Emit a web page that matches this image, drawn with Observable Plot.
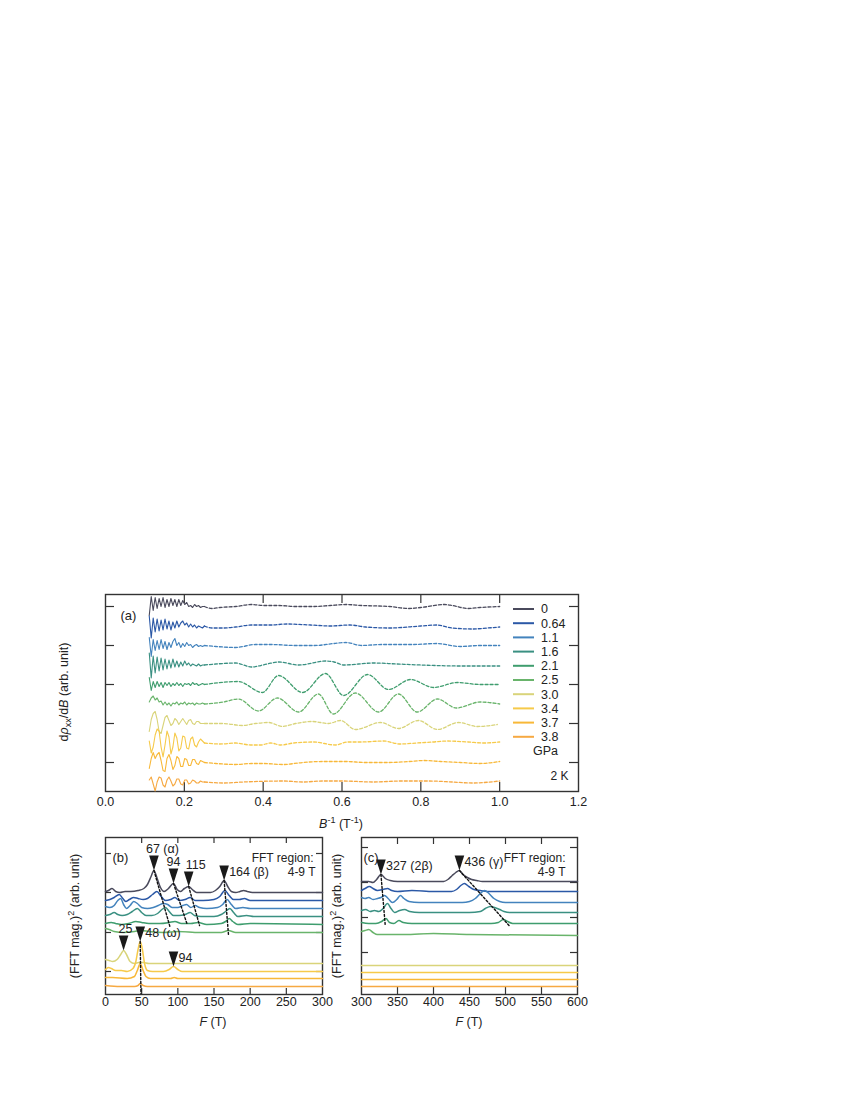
<!DOCTYPE html>
<html><head><meta charset="utf-8">
<script src="https://cdn.jsdelivr.net/npm/d3@7"></script>
<script src="https://cdn.jsdelivr.net/npm/@observablehq/plot@0.6"></script>
<style>
body{margin:0;background:#fff;}
#fig{position:relative;width:850px;height:1100px;}
</style></head><body><div id="fig"></div>
<script>
// ---------------- DATA ----------------
const pressures = ["0","0.64","1.1","1.6","2.1","2.5","3.0","3.4","3.7","3.8"];
const colors = ["#4a4a5c","#2b58a6","#4383bd","#3a9082","#3f9d6e","#69b46b","#d9d47a","#f6ca4a","#f8b838","#f6a942"];

// Panel (a): dρxx/dB vs 1/B, curves offset vertically (arb. unit)
const offsetsA = [185,165.5,146,126.5,107,87.5,68,48.5,29,9.5];
const solidB = [0.111,0.116,0.121,0.126,0.131,0.136,0.141,0.146,0.151,0.156,0.161,0.166,0.171,0.176,0.181,0.186,0.191,0.196,0.201,0.206,0.211,0.216,0.221,0.226,0.231,0.236,0.241,0.246,0.251];
const solidA = [
  [-9,10,-4,9,-2,8,0,9,-1,7,0,8,1,7,0,7,1,6,2,4,0,1,-1,2,0,1,-1,0,0],
  [10,-12,8,-6,7,-5,6,-4,7,-3,5,-4,4,-2,5,-1,3,5,1,3,-1,2,-1,1,-2,0,-1,-2,0],
  [8,-11,6,-5,5,-4,6,-3,4,-4,3,-2,4,7,0,3,-2,2,-1,3,0,1,-2,0,1,-1,0,-1,0],
  [12,-13,9,-8,8,-6,7,-5,6,-4,5,-3,6,-2,4,-2,3,-1,4,0,2,-1,1,0,-1,1,-1,0,0],
  [7,-6,3,-3,3,-2,2,-3,2,-1,2,-2,1,-1,2,-1,1,-2,1,0,1,-1,2,0,1,-1,0,1,0],
  [2,6,8,4,6,2,3,-1,2,-1,1,-2,1,0,2,-1,1,0,2,-1,1,0,1,-1,1,0,0,1,0],
  [-8,4,10,12,4,-8,-10,-2,6,8,3,-2,0,5,3,-1,2,5,2,-1,3,4,0,-1,2,2,0,0,0],
  [2,-10,-4,8,14,12,-4,-14,-2,12,6,-11,-4,10,5,-8,-5,7,6,-5,-6,4,6,-2,-4,1,4,2,0],
  [-6,4,10,4,8,10,2,-8,-9,4,8,2,-7,-3,6,4,-4,-4,4,3,-3,-3,3,3,-1,-2,2,1,0],
  [2,5,-2,-9,0,5,4,-3,-5,2,5,1,-4,-2,3,3,-2,-3,2,2,-2,-1,2,1,-1,-1,1,0,0]
];
const dashA = [
  [[0.251,0],[0.27,-2],[0.29,-1],[0.33,0],[0.37,2],[0.40,1],[0.44,1],[0.48,0],[0.53,0],[0.57,1],[0.61,2],[0.65,1],[0.72,0],[0.77,-2],[0.80,-1],[0.86,2],[0.88,1],[0.92,-2],[0.95,-1],[1.0,0]],
  [[0.251,0],[0.27,-2],[0.30,-2],[0.33,-1],[0.37,1],[0.42,1],[0.46,2],[0.52,1],[0.57,0],[0.62,1],[0.66,-1],[0.72,-2],[0.80,0],[0.84,1],[0.88,-2],[0.93,-3],[0.97,-2],[1.0,-1]],
  [[0.251,0],[0.28,-1],[0.33,-2],[0.38,1],[0.42,1],[0.48,0],[0.53,0],[0.58,2],[0.61,3],[0.65,0],[0.70,1],[0.78,1],[0.84,2],[0.90,-1],[0.95,0],[1.0,0]],
  [[0.251,0],[0.28,1],[0.33,2],[0.37,-2],[0.41,1],[0.44,3],[0.49,0],[0.56,4],[0.58,3],[0.605,0],[0.68,2],[0.74,1],[0.80,0],[0.90,-1],[1.0,-1]],
  [[0.251,0],[0.337,3],[0.398,-8],[0.439,9],[0.50,-8],[0.558,11],[0.604,-11],[0.665,10],[0.718,-5],[0.774,5],[0.832,-3],[0.893,2],[0.95,0],[1.0,0]],
  [[0.251,0],[0.30,2],[0.337,5],[0.388,-7],[0.436,6],[0.49,-8],[0.54,10],[0.578,-10],[0.634,11],[0.693,-8],[0.743,10],[0.791,-8],[0.842,5],[0.89,-4],[0.951,2],[1.0,0]],
  [[0.251,0],[0.297,0],[0.348,-2],[0.38,0],[0.414,1],[0.449,-3],[0.482,0],[0.525,2],[0.566,0],[0.596,3],[0.634,-6],[0.698,1],[0.743,-5],[0.794,3],[0.842,-6],[0.895,1],[0.944,-3],[0.994,-1]],
  [[0.251,0],[0.29,-1],[0.33,0],[0.368,-2],[0.393,-2],[0.419,0],[0.445,-2],[0.477,0],[0.528,1],[0.583,-2],[0.614,1],[0.647,1],[0.705,2],[0.748,-1],[0.79,0],[0.83,1],[0.868,2],[0.92,1],[0.96,0],[1.0,1]],
  [[0.251,0],[0.28,-1],[0.33,-2],[0.37,-1],[0.40,-1],[0.45,-2],[0.50,0],[0.55,1],[0.61,1],[0.66,0],[0.72,0],[0.77,1],[0.81,2],[0.85,1],[0.90,0],[0.95,-1],[1.0,1]],
  [[0.251,0],[0.30,-1],[0.35,0],[0.45,1],[0.50,0],[0.55,1],[0.60,1],[0.68,0],[0.75,1],[0.82,1],[0.88,0],[0.93,-1],[1.0,1]]
];
const xTicksA = [0,0.2,0.4,0.6,0.8,1.0,1.2];
const yTicksA = [185,146,107,68,29];

// Panel (b): FFT magnitude squared vs F, 0-300 T
const offsetsB = [102,94,86,78,70,62,31,23,16,8];
const fftB = [
  [[0,1],[4,2],[9,4],[14,1],[20,0],[27,1],[35,1],[45,2],[53,4],[58,8],[63,16],[67,22],[71,15],[76,5],[81,1],[87,4],[94,9],[99,3],[104,1],[109,4],[115,6],[120,3],[126,0],[135,0],[145,0],[152,2],[158,6],[164,12],[169,6],[174,1],[180,0],[186,1],[191,2],[196,1],[203,0],[300,0]],
  [[0,0],[6,1],[12,3],[19,6],[24,2],[28,-1],[33,1],[39,3],[45,2],[52,1],[58,2],[65,6],[71,9],[77,4],[83,0],[90,1],[96,3],[102,0],[110,1],[117,3],[124,0],[135,0],[150,1],[158,4],[165,10],[171,5],[177,1],[185,1],[192,2],[200,0],[300,0]],
  [[0,2],[6,1],[12,3],[17,8],[21,10],[25,4],[29,0],[34,3],[39,7],[44,5],[50,1],[58,0],[66,1],[73,3],[80,5],[86,4],[92,1],[100,1],[107,3],[112,4],[118,1],[124,3],[130,1],[140,0],[155,1],[162,4],[168,9],[174,4],[180,0],[190,1],[200,0],[300,0]],
  [[0,1],[6,2],[12,4],[17,2],[23,1],[30,2],[37,5],[44,8],[50,4],[56,1],[64,1],[72,3],[78,7],[83,9],[88,5],[94,1],[102,1],[110,2],[117,4],[123,1],[132,0],[150,0],[160,2],[166,5],[172,8],[177,4],[183,0],[195,1],[205,0],[300,0]],
  [[0,1],[8,2],[14,1],[22,0],[32,1],[42,3],[50,2],[60,1],[75,1],[88,2],[96,3],[105,1],[118,1],[128,2],[140,0],[160,1],[166,3],[171,6],[176,3],[183,0],[200,1],[300,0]],
  [[0,4],[5,3],[12,1],[25,0],[40,1],[50,2],[60,1],[80,0],[100,1],[130,0],[160,0],[170,2],[180,0],[300,0]],
  [[0,4],[5,3],[10,2],[16,4],[21,9],[25,13],[29,9],[34,2],[40,0],[46,1],[52,1],[60,0],[80,0],[95,0],[300,0]],
  [[0,2],[4,4],[8,3],[14,1],[22,1],[30,0],[38,3],[42,10],[45,22],[48,30],[51,22],[54,8],[58,1],[65,0],[80,0],[88,2],[94,5],[100,2],[106,0],[130,0],[300,0]],
  [[0,1],[10,1],[30,0],[40,2],[44,8],[48,15],[52,8],[56,2],[62,0],[90,0],[95,1],[100,0],[300,0]],
  [[0,1],[20,0],[40,0],[45,1],[48,3],[52,1],[58,0],[300,0]]
];
const xTicksB = [0,50,100,150,200,250,300];
const yTicksB = [141,102,62,23];
const peaksB = [
  {F:67, curve:0, label:"67 (α)", side:"top"},
  {F:94, curve:0, label:"94", side:"top"},
  {F:115, curve:0, label:"115", side:"top"},
  {F:164, curve:0, label:"164 (β)", side:"right"},
  {F:25, curve:6, label:"25", side:"top"},
  {F:48, curve:7, label:"48 (ω)", side:"right"},
  {F:94, curve:7, label:"94", side:"right"}
];
// dotted guides: [F of peak, curve index, end F, end level]
const guidesB = [[67,0,89,68],[94,0,113,70],[115,0,130,69],[164,0,170,60],[48,7,49,1]];

// Panel (c): FFT magnitude squared vs F, 300-600 T
const offsetsC = [113,103,92,82,71,60,29,22,15,8];
const fftC = [
  [[300,0],[310,0],[316,-1],[321,2],[327,7],[333,3],[340,1],[350,0],[400,0],[414,0],[420,2],[426,6],[431,9],[436,11],[441,7],[447,4],[453,2],[460,1],[468,0],[600,0]],
  [[300,1],[305,3],[311,5],[316,3],[322,1],[330,2],[336,3],[342,1],[350,0],[370,1],[400,0],[425,0],[432,2],[438,6],[443,8],[449,5],[456,2],[465,1],[480,0],[600,0]],
  [[300,5],[305,4],[310,5],[316,3],[322,4],[327,5],[332,7],[337,4],[343,0],[349,3],[354,7],[359,4],[366,1],[380,0],[420,0],[440,0],[450,1],[458,4],[465,9],[471,12],[477,9],[484,4],[492,1],[500,0],[600,0]],
  [[300,2],[306,3],[312,1],[318,2],[324,1],[330,4],[336,9],[341,4],[346,0],[353,2],[360,3],[367,1],[380,0],[450,0],[465,1],[472,4],[479,6],[485,5],[492,3],[498,1],[506,0],[600,0]],
  [[300,1],[310,0],[320,0],[328,2],[334,5],[339,1],[345,0],[352,3],[358,1],[370,0],[480,0],[490,1],[497,4],[503,2],[510,0],[600,0]],
  [[300,3],[305,4],[310,5],[316,2],[322,0],[340,0],[360,0],[400,1],[450,0],[600,-1]],
  [[300,0],[450,0],[600,0]],
  [[300,0],[450,0],[600,0]],
  [[300,0],[450,0],[600,0]],
  [[300,0],[450,0],[600,0]]
];
const xTicksC = [300,350,400,450,500,550,600];
const yTicksC = [147,112,77,42];
const peaksC = [
  {F:327, curve:0, label:"327 (2β)", side:"right"},
  {F:436, curve:0, label:"436 (γ)", side:"right"}
];
const guidesC = [[327,0,333,69],[436,0,505,69]];

// ---------------- DRAWING ----------------
const FONT = '"Liberation Sans", Arial, Helvetica, sans-serif';
const INK = "#222";
const fig = document.getElementById("fig");
const baseStyle = {fontFamily: FONT, fontSize: "12px", color: INK, background: "transparent", overflow: "visible"};
// horizontal shift of labels placed above their triangle (layout only)
const topLabelDx = {"67 (α)": -8, "94": -7, "115": -3, "25": -5};

const tri = {draw(ctx){ ctx.moveTo(0,0); ctx.lineTo(-4.8,-15); ctx.lineTo(4.8,-15); ctx.closePath(); }};

function tickMarks(xt, yt, len, fw, fh) {
  const o = {stroke: "#333", strokeWidth: 1.2};
  return [
    Plot.ruleX(xt, {...o, insetTop: fh - len}),
    Plot.ruleX(xt, {...o, insetBottom: fh - len}),
    Plot.ruleY(yt, {...o, insetRight: fw - len}),
    Plot.ruleY(yt, {...o, insetLeft: fw - len})
  ];
}

function place(svg, top) {
  svg.style.position = "absolute";
  svg.style.left = "0px";
  svg.style.top = top + "px";
  svg.style.maxWidth = "none";
  fig.appendChild(svg);
}

function valueAt(series, F) {
  const p = series.find(d => d[0] === F);
  return p ? p[1] : 0;
}

function fftMarks(data, offsets, peaks, guides) {
  const marks = [];
  data.forEach((s, i) => {
    marks.push(Plot.line(s.map(([f, v]) => ({x: f, y: offsets[i] + v})),
      {x: "x", y: "y", stroke: colors[i], strokeWidth: 1.5, curve: "monotone-x"}));
  });
  const g = guides.map(([f, c, f2, y2]) => [
    {x: f, y: offsets[c] + valueAt(data[c], f), k: f},
    {x: f2, y: y2, k: f}
  ]).flat();
  marks.push(Plot.line(g, {x: "x", y: "y", z: "k", stroke: "#111", strokeWidth: 1.4, strokeDasharray: "2,2"}));
  const pk = peaks.map(p => ({...p, y: offsets[p.curve] + valueAt(data[p.curve], p.F)}));
  marks.push(Plot.dot(pk, {x: "F", y: "y", symbol: tri, fill: "#1a1a1a", stroke: null, r: 5}));
  pk.forEach(p => {
    if (p.side === "top") {
      marks.push(Plot.text([p], {x: "F", y: "y", text: "label", dy: -22, dx: topLabelDx[p.label] ?? -6,
        textAnchor: "start", fill: INK, fontSize: 12.5}));
    } else {
      marks.push(Plot.text([p], {x: "F", y: "y", text: "label", dy: -9, dx: 5,
        textAnchor: "start", fill: INK, fontSize: 12.5}));
    }
  });
  return marks;
}

// Panel (a)
{
  const fw = 473, fh = 197;
  const marks = [
    Plot.frame({stroke: "#333", strokeWidth: 1.4}),
    ...tickMarks(xTicksA.slice(1, -1), yTicksA, 9, fw, fh),
    Plot.text(xTicksA, {x: d => d, frameAnchor: "bottom", dy: 14, text: d => d3.format(".1f")(d), fill: INK, fontSize: 12.5}),
    Plot.text(["(a)"], {frameAnchor: "top-left", dx: 15, dy: 16, text: d => d, textAnchor: "start", fill: INK, fontSize: 13}),
    Plot.text(["2 K"], {frameAnchor: "bottom-right", dx: -10, dy: -12, text: d => d, textAnchor: "end", fill: INK, fontSize: 12})
  ];
  pressures.forEach((p, i) => {
    marks.push(Plot.line(solidB.map((b, k) => ({x: b, y: offsetsA[i] + solidA[i][k]})),
      {x: "x", y: "y", stroke: colors[i], strokeWidth: 1.1}));
    marks.push(Plot.line(dashA[i].map(([b, v]) => ({x: b, y: offsetsA[i] + v})),
      {x: "x", y: "y", stroke: colors[i], strokeWidth: 1.3, strokeDasharray: "3,2", curve: "monotone-x"}));
  });
  const svg = Plot.plot({
    width: 850, height: 290, marginTop: 34, marginBottom: 59, marginLeft: 105, marginRight: 272,
    x: {domain: [0, 1.2], axis: null}, y: {domain: [0, 197], axis: null},
    style: baseStyle, marks
  });
  place(svg, 560);
}

// Panel (b)
{
  const fw = 217, fh = 157;
  const marks = [
    Plot.frame({stroke: "#333", strokeWidth: 1.4}),
    ...tickMarks(xTicksB.slice(1, -1), yTicksB, 6, fw, fh),
    Plot.text(xTicksB, {x: d => d, frameAnchor: "bottom", dy: 11, text: d => String(d), fill: INK, fontSize: 12.5}),
    Plot.text(["(b)"], {frameAnchor: "top-left", dx: 7, dy: 15, text: d => d, textAnchor: "start", fill: INK, fontSize: 13}),
    Plot.text(["FFT region:"], {frameAnchor: "top-right", dx: -9, dy: 16, text: d => d, textAnchor: "end", fill: INK, fontSize: 12}),
    Plot.text(["4-9 T"], {frameAnchor: "top-right", dx: -7, dy: 30, text: d => d, textAnchor: "end", fill: INK, fontSize: 12}),
    ...fftMarks(fftB, offsetsB, peaksB, guidesB)
  ];
  const svg = Plot.plot({
    width: 850, height: 220, marginTop: 17, marginBottom: 46, marginLeft: 105, marginRight: 528,
    x: {domain: [0, 300], axis: null}, y: {domain: [0, 157], axis: null},
    style: baseStyle, marks
  });
  place(svg, 820);
}

// Panel (c)
{
  const fw = 216, fh = 157;
  const marks = [
    Plot.frame({stroke: "#333", strokeWidth: 1.4}),
    ...tickMarks(xTicksC.slice(1, -1), yTicksC, 7, fw, fh),
    Plot.text(xTicksC, {x: d => d, frameAnchor: "bottom", dy: 11, text: d => String(d), fill: INK, fontSize: 12.5}),
    Plot.text(["(c)"], {frameAnchor: "top-left", dx: 2, dy: 15, text: d => d, textAnchor: "start", fill: INK, fontSize: 13}),
    Plot.text(["FFT region:"], {frameAnchor: "top-right", dx: -12, dy: 16, text: d => d, textAnchor: "end", fill: INK, fontSize: 12}),
    Plot.text(["4-9 T"], {frameAnchor: "top-right", dx: -12, dy: 30, text: d => d, textAnchor: "end", fill: INK, fontSize: 12}),
    ...fftMarks(fftC, offsetsC, peaksC, guidesC)
  ];
  const svg = Plot.plot({
    width: 850, height: 220, marginTop: 17, marginBottom: 46, marginLeft: 361, marginRight: 273,
    x: {domain: [300, 600], axis: null}, y: {domain: [0, 157], axis: null},
    style: baseStyle, marks
  });
  place(svg, 820);
}

// Overlay: axis titles and legend (rich text)
const ov = d3.select(fig).append("svg")
  .attr("width", 850).attr("height", 1100)
  .style("position", "absolute").style("left", "0px").style("top", "0px")
  .style("pointer-events", "none")
  .attr("font-family", FONT).attr("font-size", 12.5).attr("fill", INK);

{
  const t = ov.append("text").attr("transform", "translate(68,692) rotate(-90)").attr("text-anchor", "middle");
  t.append("tspan").text("d");
  t.append("tspan").attr("font-style", "italic").text("ρ");
  t.append("tspan").attr("font-size", 9).attr("dy", 3).text("xx");
  t.append("tspan").attr("dy", -3).text("/d");
  t.append("tspan").attr("font-style", "italic").text("B");
  t.append("tspan").text(" (arb. unit)");
}
{
  const t = ov.append("text").attr("x", 341).attr("y", 828).attr("text-anchor", "middle");
  t.append("tspan").attr("font-style", "italic").text("B");
  t.append("tspan").attr("font-size", 9).attr("dy", -5).text("-1");
  t.append("tspan").attr("dy", 5).text(" (T");
  t.append("tspan").attr("font-size", 9).attr("dy", -5).text("-1");
  t.append("tspan").attr("dy", 5).text(")");
}
[[79, 916], [341, 916]].forEach(([x, y]) => {
  const t = ov.append("text").attr("transform", `translate(${x},${y}) rotate(-90)`).attr("text-anchor", "middle");
  t.append("tspan").text("(FFT mag.)");
  t.append("tspan").attr("font-size", 9).attr("dy", -5).text("2");
  t.append("tspan").attr("dy", 5).text(" (arb. unit)");
});
[213, 469].forEach(x => {
  const t = ov.append("text").attr("x", x).attr("y", 1026).attr("text-anchor", "middle");
  t.append("tspan").attr("font-style", "italic").text("F");
  t.append("tspan").text(" (T)");
});
pressures.forEach((p, i) => {
  const y = 609 + i * 14.2;
  ov.append("line").attr("x1", 513).attr("x2", 534).attr("y1", y).attr("y2", y)
    .attr("stroke", colors[i]).attr("stroke-width", 2);
  ov.append("text").attr("x", 541).attr("y", y).attr("dy", "0.35em").text(p);
});
ov.append("text").attr("x", 533).attr("y", 751).attr("dy", "0.35em").text("GPa");
</script>
</body></html>
